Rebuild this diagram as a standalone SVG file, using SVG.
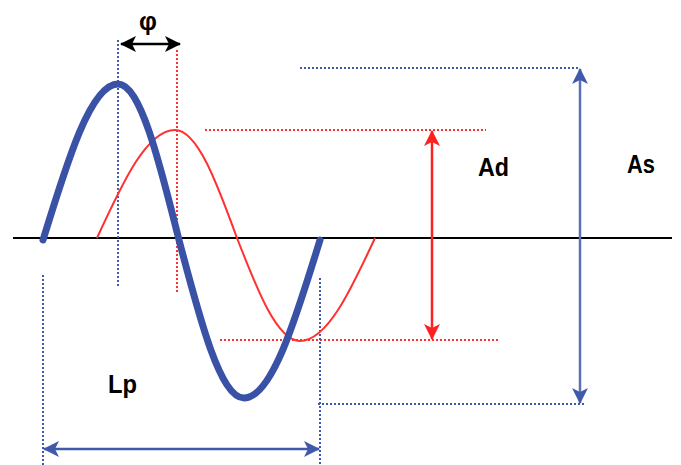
<svg xmlns="http://www.w3.org/2000/svg" width="681" height="465" viewBox="0 0 681 465">
<style>
.lbl{font-family:"Liberation Sans",Arial,sans-serif;font-weight:bold;fill:#000}
.dotb{stroke:#3f5aab;stroke-width:2;stroke-dasharray:2 2;fill:none}
.dotr{stroke:#ff3030;stroke-width:2;stroke-dasharray:2 2;fill:none}
</style>
<defs>
<marker id="ahR" viewBox="0 0 16 16" refX="15" refY="8" markerWidth="16" markerHeight="16" markerUnits="userSpaceOnUse" orient="auto-start-reverse">
<path d="M0,0 L16,8 L0,16 L4,8 Z" fill="#ff2020"/>
</marker>
<marker id="ahB" viewBox="0 0 16 16" refX="15" refY="8" markerWidth="16" markerHeight="16" markerUnits="userSpaceOnUse" orient="auto-start-reverse">
<path d="M0,0 L16,8 L0,16 L4,8 Z" fill="#3f5aab"/>
</marker>
<marker id="ahK" viewBox="0 0 16 16" refX="15" refY="8" markerWidth="16" markerHeight="16" markerUnits="userSpaceOnUse" orient="auto-start-reverse">
<path d="M0,0 L16,8 L0,16 L4,8 Z" fill="#000"/>
</marker>
</defs>
<rect width="681" height="465" fill="#fff"/>
<g id="axis">
<line x1="13" y1="238" x2="672" y2="238" stroke="#000" stroke-width="2"/>
</g>
<g id="guides">
<line class="dotb" x1="118" y1="40" x2="118" y2="286"/>
<line class="dotr" x1="177" y1="50" x2="177" y2="292"/>
<line class="dotr" x1="205" y1="130" x2="486" y2="130"/>
<line class="dotr" x1="220" y1="340" x2="500" y2="340"/>
<line class="dotb" x1="300" y1="68" x2="580" y2="68"/>
<line class="dotb" x1="318" y1="404" x2="585" y2="404"/>
<line class="dotb" x1="43" y1="275" x2="43" y2="465"/>
<line class="dotb" x1="320" y1="278" x2="320" y2="465"/>
</g>
<g id="wave-red">
<path d="M97,238 C122.4,182.7 146.8,130 175,130 C197.4,130 216.8,182.7 237,238 C257.5,290.8 277.2,341 300,341 C327.1,341 350.5,290.8 375,238" fill="none" stroke="#ff3030" stroke-width="2"/>
</g>
<g id="wave-blue">
<path d="M43,240 C67.5,160.1 90.9,84 118,84 C140.1,84 159.1,160.1 179,240 C200.2,320.9 220.5,398 244,398 C271.5,398 295.2,320.9 320,240" fill="none" stroke="#3a52a6" stroke-width="7" stroke-linecap="round"/>
</g>
<g id="connectors">
<line x1="121" y1="44" x2="180" y2="44" stroke="#000" stroke-width="2.5" marker-start="url(#ahK)" marker-end="url(#ahK)"/>
<line x1="432" y1="131" x2="432" y2="339" stroke="#ff2020" stroke-width="2.5" marker-start="url(#ahR)" marker-end="url(#ahR)"/>
<line x1="580" y1="69" x2="580" y2="403" stroke="#5a70b8" stroke-width="2.5" marker-start="url(#ahB)" marker-end="url(#ahB)"/>
<line x1="44" y1="449" x2="319" y2="449" stroke="#3f5aab" stroke-width="2.5" marker-start="url(#ahB)" marker-end="url(#ahB)"/>
</g>
<g id="labels">
<text class="lbl" x="148" y="30" font-size="25" text-anchor="middle">φ</text>
<text class="lbl" x="478" y="176" font-size="26" textLength="31" lengthAdjust="spacingAndGlyphs">Ad</text>
<text class="lbl" x="627" y="173" font-size="26" textLength="28" lengthAdjust="spacingAndGlyphs">As</text>
<text class="lbl" x="108" y="393" font-size="26" textLength="29" lengthAdjust="spacingAndGlyphs">Lp</text>
</g>
</svg>
